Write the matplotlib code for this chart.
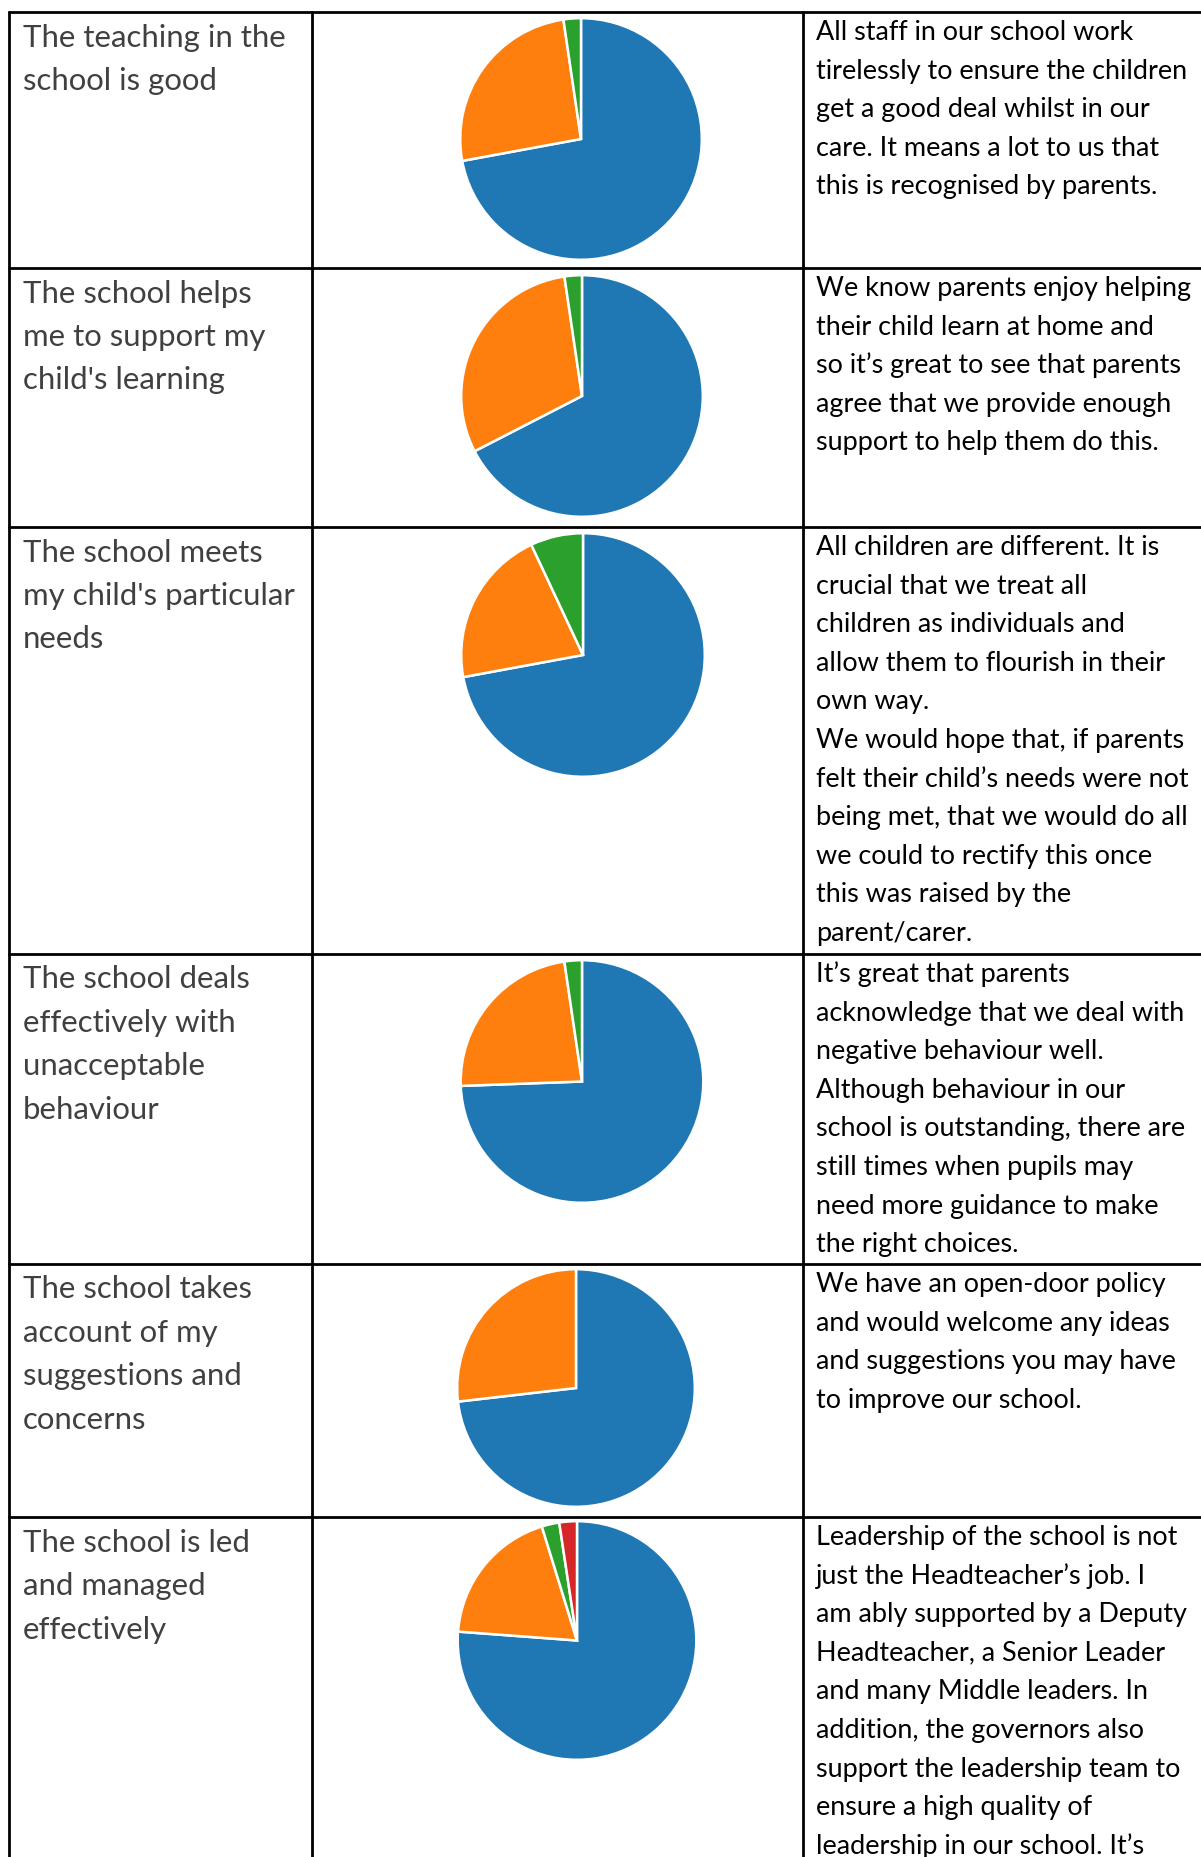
import matplotlib
matplotlib.use("Agg")
import matplotlib.pyplot as plt

# ---------------- data ----------------
statements = [
    ["The teaching in the", "school is good"],
    ["The school helps", "me to support my", "child's learning"],
    ["The school meets", "my child's particular", "needs"],
    ["The school deals", "effectively with", "unacceptable", "behaviour"],
    ["The school takes", "account of my", "suggestions and", "concerns"],
    ["The school is led", "and managed", "effectively"],
]

# response counts: strongly agree, agree, disagree, strongly disagree
teaching = [31, 11, 1]
support_learning = [29, 13, 1]
particular_needs = [31, 9, 3]
behaviour = [32, 10, 1]
suggestions = [30, 11]
leadership = [32, 8, 1, 1]
pie_values = [teaching, support_learning, particular_needs, behaviour, suggestions, leadership]

comments = [
    ["All staff in our school work", "tirelessly to ensure the children",
     "get a good deal whilst in our", "care. It means a lot to us that",
     "this is recognised by parents."],
    ["We know parents enjoy helping", "their child learn at home and",
     "so it\u2019s great to see that parents", "agree that we provide enough",
     "support to help them do this."],
    ["All children are different. It is", "crucial that we treat all",
     "children as individuals and", "allow them to flourish in their",
     "own way.", "We would hope that, if parents",
     "felt their child\u2019s needs were not", "being met, that we would do all",
     "we could to rectify this once", "this was raised by the",
     "parent/carer."],
    ["It\u2019s great that parents", "acknowledge that we deal with",
     "negative behaviour well.", "Although behaviour in our",
     "school is outstanding, there are", "still times when pupils may",
     "need more guidance to make", "the right choices."],
    ["We have an open-door policy", "and would welcome any ideas",
     "and suggestions you may have", "to improve our school."],
    ["Leadership of the school is not", "just the Headteacher\u2019s job. I",
     "am ably supported by a Deputy", "Headteacher, a Senior Leader",
     "and many Middle leaders. In", "addition, the governors also",
     "support the leadership team to", "ensure a high quality of",
     "leadership in our school. It\u2019s"],
]

colors = ["#1f77b4", "#ff7f0e", "#2ca02c", "#d62728"]

# ---------------- layout ----------------
W, H = 1201, 1857
DPI = 100
row_tops = [12, 268, 527, 954, 1264, 1517]
col_x = [9, 312, 803]
pie_geom = [(581, 139, 122), (582, 396, 122), (583, 655, 123),
            (582, 1081.5, 122.5), (576, 1388, 120), (577, 1640.5, 120.5)]

FONT = "Lato"
fig = plt.figure(figsize=(W / DPI, H / DPI), dpi=DPI)
ax = fig.add_axes([0, 0, 1, 1])
ax.set_xlim(0, W)
ax.set_ylim(H, 0)
ax.axis("off")

# fit font sizes to measured line widths
renderer = fig.canvas.get_renderer()
def fit_size(s, target_px):
    t = ax.text(0, 0, s, fontsize=20, family=FONT)
    w = t.get_window_extent(renderer=renderer).width
    t.remove()
    return 20 * target_px / w

right_fs = fit_size("tirelessly to ensure the children", 374)
left_fs = fit_size("my child's particular", 272)

# table lines
lw = 2.0
for y in row_tops:
    ax.plot([col_x[0] - 1, W + 5], [y, y], color="black", lw=lw, solid_capstyle="butt")
for x in col_x:
    ax.plot([x, x], [row_tops[0] - 1, H + 5], color="black", lw=lw, solid_capstyle="butt")

# texts
for i, top in enumerate(row_tops):
    for j, line in enumerate(statements[i]):
        ax.text(23, top + 34.5 + j * 43.5, line, fontsize=left_fs, family=FONT,
                color="#404040", va="baseline", ha="left")
    for j, line in enumerate(comments[i]):
        ax.text(816, top + 28 + j * 38.6, line, fontsize=right_fs, family=FONT,
                color="black", va="baseline", ha="left")

# pies
for vals, (cx, cy, r) in zip(pie_values, pie_geom):
    pax = fig.add_axes([(cx - r) / W, 1 - (cy + r) / H, 2 * r / W, 2 * r / H])
    pax.pie(vals, colors=colors[:len(vals)], startangle=90, counterclock=False,
            radius=1, wedgeprops=dict(edgecolor="white", linewidth=1.8))
    pax.set_xlim(-1.01, 1.01)
    pax.set_ylim(-1.01, 1.01)
    pax.set_aspect("equal")
    pax.axis("off")

fig.savefig("out.png", dpi=DPI)
